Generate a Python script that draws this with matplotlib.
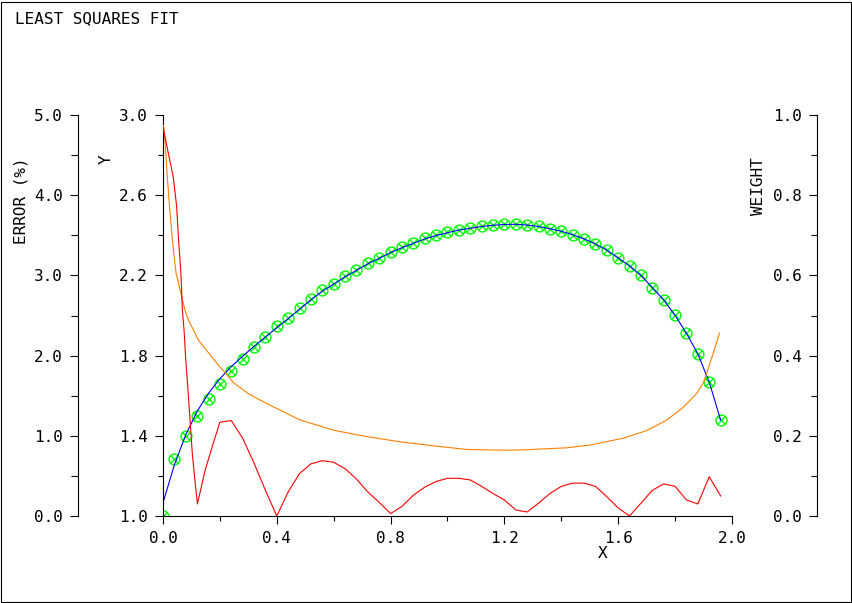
import numpy as np
import matplotlib
matplotlib.use("Agg")
import matplotlib.pyplot as plt
from matplotlib.patches import Rectangle

# ---- data ----
x_data = [0.00, 0.04, 0.08, 0.12, 0.16, 0.20, 0.24, 0.28, 0.32, 0.36,
          0.40, 0.44, 0.48, 0.52, 0.56, 0.60, 0.64, 0.68, 0.72, 0.76,
          0.80, 0.84, 0.88, 0.92, 0.96, 1.00, 1.04, 1.08, 1.12, 1.16,
          1.20, 1.24, 1.28, 1.32, 1.36, 1.40, 1.44, 1.48, 1.52, 1.56,
          1.60, 1.64, 1.68, 1.72, 1.76, 1.80, 1.84, 1.88, 1.92, 1.96]
y_data = [1.000, 1.283, 1.400, 1.500, 1.582, 1.658, 1.723, 1.781, 1.841, 1.894,
          1.946, 1.989, 2.037, 2.082, 2.126, 2.159, 2.197, 2.227, 2.262, 2.287,
          2.318, 2.340, 2.363, 2.385, 2.402, 2.415, 2.428, 2.435, 2.446, 2.451,
          2.455, 2.455, 2.451, 2.444, 2.432, 2.421, 2.403, 2.382, 2.357, 2.327,
          2.285, 2.247, 2.200, 2.139, 2.077, 2.001, 1.911, 1.808, 1.668, 1.479]
# fitted curve (blue)
y_fit = [1.066, 1.255, 1.405, 1.522, 1.612, 1.685, 1.745, 1.797, 1.846, 1.893,
         1.939, 1.984, 2.031, 2.078, 2.121, 2.157, 2.193, 2.225, 2.258, 2.285,
         2.314, 2.338, 2.360, 2.382, 2.399, 2.413, 2.426, 2.435, 2.444, 2.450,
         2.454, 2.455, 2.451, 2.444, 2.433, 2.420, 2.403, 2.382, 2.357, 2.326,
         2.287, 2.247, 2.199, 2.140, 2.077, 2.001, 1.911, 1.808, 1.668, 1.479]

# relative error in % (red)
x_err = [0.000, 0.020, 0.036, 0.048, 0.054, 0.063, 0.068, 0.074, 0.080, 0.087,
         0.095, 0.103, 0.112, 0.121, 0.148, 0.177, 0.200, 0.240, 0.280, 0.320,
         0.360, 0.400, 0.440, 0.480, 0.520, 0.560, 0.600, 0.640, 0.680, 0.720,
         0.760, 0.800, 0.840, 0.880, 0.920, 0.960, 1.000, 1.040, 1.080, 1.120,
         1.160, 1.200, 1.240, 1.280, 1.320, 1.360, 1.400, 1.440, 1.480, 1.520,
         1.560, 1.600, 1.640, 1.680, 1.720, 1.760, 1.800, 1.840, 1.880, 1.920,
         1.960]
err = [4.85, 4.50, 4.23, 3.86, 3.48, 3.03, 2.57, 2.32, 1.95, 1.61,
       1.20, 0.78, 0.45, 0.15, 0.57, 0.91, 1.17, 1.19, 0.97, 0.66,
       0.32, 0.00, 0.30, 0.53, 0.65, 0.69, 0.67, 0.59, 0.46, 0.30,
       0.17, 0.03, 0.12, 0.26, 0.36, 0.43, 0.47, 0.47, 0.45, 0.37,
       0.28, 0.20, 0.075, 0.05, 0.16, 0.28, 0.37, 0.41, 0.41, 0.37,
       0.24, 0.10, 0.00, 0.16, 0.32, 0.40, 0.37, 0.20, 0.15, 0.49,
       0.25]

# weights (orange)
x_w = [0.000, 0.0035, 0.009, 0.015, 0.022, 0.031, 0.039, 0.046, 0.060, 0.077,
       0.089, 0.107, 0.124, 0.171, 0.200, 0.224, 0.247, 0.300, 0.360, 0.400,
       0.480, 0.599, 0.716, 0.833, 0.950, 1.067, 1.208, 1.266, 1.419, 1.501,
       1.618, 1.700, 1.770, 1.829, 1.876, 1.899, 1.911, 1.934, 1.956]
w = [0.975, 0.967, 0.913, 0.846, 0.780, 0.705, 0.647, 0.605, 0.564, 0.514,
     0.489, 0.464, 0.439, 0.397, 0.372, 0.353, 0.333, 0.305, 0.282, 0.268,
     0.240, 0.214, 0.198, 0.185, 0.175, 0.166, 0.164, 0.165, 0.170, 0.177,
     0.194, 0.213, 0.239, 0.271, 0.306, 0.331, 0.356, 0.406, 0.456]

# ---- figure ----
W, H = 853, 603
plt.rcParams['font.family'] = ['DejaVu Sans Mono']
plt.rcParams['font.size'] = 11.5
fig = plt.figure(figsize=(W / 100, H / 100), dpi=100)

x0, x1, ytop, ybot = 163, 732, 115, 516
ax = fig.add_axes([x0 / W, (H - ybot) / H, (x1 - x0) / W, (ybot - ytop) / H])
ax_w = ax.twinx()
ax_e = ax.twinx()

lw = 0.8
tick_kw = dict(direction='out', width=0.8, colors='black', labelsize=11.5)

# main axes: Y vs X
ax.plot(x_data, y_data, linestyle='none', marker='o', markersize=7.8,
        markerfacecolor='none', markeredgecolor='#00ff00', markeredgewidth=1.0)
ax.plot(x_data, y_data, linestyle='none', marker='x', markersize=5.5,
        markeredgecolor='#00ff00', markeredgewidth=1.0)
ax.plot(x_data, y_fit, color='#0000ff', lw=lw)
ax.set_xlim(0, 2.0)
ax.set_ylim(1.0, 3.0)
ax.set_xticks(np.arange(0, 2.01, 0.4))
ax.set_xticks(np.arange(0, 2.01, 0.2), minor=True)
ax.set_xticklabels(['%.1f' % v for v in np.arange(0, 2.01, 0.4)])
ax.set_yticks(np.arange(1.0, 3.01, 0.4))
ax.set_yticks(np.arange(1.0, 3.01, 0.2), minor=True)
ax.set_yticklabels(['%.1f' % v for v in np.arange(1.0, 3.01, 0.4)])
ax.tick_params(which='major', length=6, pad=5, **tick_kw)
ax.tick_params(which='minor', length=3.5, width=0.8, direction='out')
ax.spines['top'].set_visible(False)
ax.spines['right'].set_visible(False)
for s in ('left', 'bottom'):
    ax.spines[s].set_linewidth(0.8)

# weight axis (orange), spine at x=817px, labels to its left
ax_w.plot(x_w, w, color='#ff8000', lw=lw)
ax_w.set_ylim(0, 1.0)
ax_w.yaxis.tick_left()
ax_w.spines['left'].set_position(('axes', (817 - x0) / (x1 - x0)))
ax_w.set_yticks(np.arange(0, 1.01, 0.2))
ax_w.set_yticks(np.arange(0, 1.01, 0.1), minor=True)
ax_w.set_yticklabels(['%.1f' % v for v in np.arange(0, 1.01, 0.2)])
ax_w.tick_params(which='major', length=6, pad=5, **tick_kw)
ax_w.tick_params(which='minor', length=4, width=0.8, direction='out')

# error axis (red), spine at x=78px
ax_e.plot(x_err, err, color='#ff0000', lw=lw)
ax_e.set_ylim(0, 5.0)
ax_e.yaxis.tick_left()
ax_e.spines['left'].set_position(('axes', (78 - x0) / (x1 - x0)))
ax_e.set_yticks(np.arange(0, 5.01, 1.0))
ax_e.set_yticks(np.arange(0, 5.01, 0.5), minor=True)
ax_e.set_yticklabels(['%.1f' % v for v in np.arange(0, 5.01, 1.0)])
ax_e.tick_params(which='major', length=6, pad=5, **tick_kw)
ax_e.tick_params(which='minor', length=5, width=0.8, direction='out')

for a in (ax_w, ax_e):
    for s in ('top', 'right', 'bottom'):
        a.spines[s].set_visible(False)
    a.spines['left'].set_linewidth(0.8)

# axis names
fig.text(106 / W, 1 - 159 / H, 'Y', rotation=90, ha='center', va='center')
fig.text(21 / W, 1 - 201 / H, 'ERROR (%)', rotation=90, ha='center', va='center')
fig.text(759 / W, 1 - 186 / H, 'WEIGHT', rotation=90, ha='center', va='center')
fig.text(603 / W, 1 - 553 / H, 'X', ha='center', va='center')
fig.text(15 / W, 1 - 19 / H, 'LEAST SQUARES FIT', ha='left', va='center')

# page border
fig.add_artist(Rectangle((1.5 / W, 1.5 / H), 850 / W, 600 / H, transform=fig.transFigure,
                         fill=False, edgecolor='black', lw=0.8))

fig.savefig('out.png', dpi=100)
